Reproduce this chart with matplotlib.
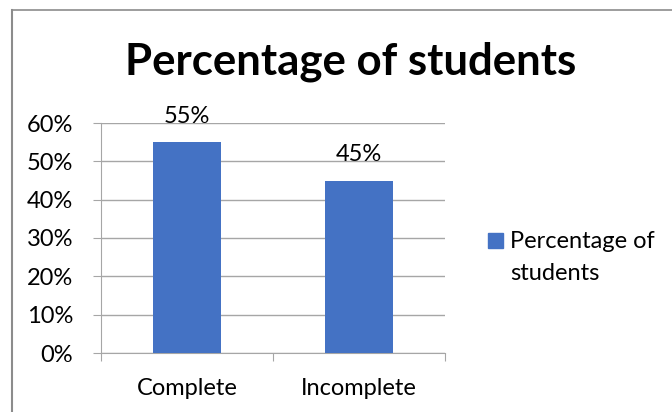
import matplotlib.pyplot as plt
from matplotlib.lines import Line2D
from matplotlib.patches import Rectangle

categories = ["Complete", "Incomplete"]
values = [0.55, 0.45]
value_labels = ["55%", "45%"]
yticks = [0, 0.1, 0.2, 0.3, 0.4, 0.5, 0.6]
ytick_labels = ["0%", "10%", "20%", "30%", "40%", "50%", "60%"]
series_lines = ["Percentage of", "students"]

W, H = 672, 412
bar_color = "#4472c4"
grid_color = "#a6a6a6"
fs = 17

plt.rcParams['font.family'] = ['Lato', 'DejaVu Sans']

fig = plt.figure(figsize=(W / 100, H / 100), dpi=100)
ax = fig.add_axes([101 / W, 1 - 353 / H, (445 - 101) / W, (353 - 123) / H])

x = range(len(categories))
bars = ax.bar(x, values, width=0.4, color=bar_color, zorder=3)
ax.set_xlim(-0.5, 1.5)
ax.set_ylim(0, 0.6)

for b, lab in zip(bars, value_labels):
    ax.annotate(lab, (b.get_x() + b.get_width() / 2, b.get_height()),
                xytext=(0, 13.7), textcoords="offset points",
                ha="center", va="baseline", fontsize=fs)

# gridlines with short ticks sticking out left of the axis
ax.set_yticks(yticks)
ax.set_yticklabels(ytick_labels, fontsize=fs)
ax.yaxis.grid(True, color=grid_color, linewidth=1, zorder=0)
ax.tick_params(axis="y", length=6, color=grid_color, pad=14)

# category ticks sit between the bars
ax.set_xticks([-0.5, 0.5, 1.5])
ax.set_xticklabels([])
ax.set_xticks(list(x), minor=True)
ax.set_xticklabels(categories, minor=True, fontsize=fs)
ax.tick_params(axis="x", which="major", length=6, color=grid_color)
ax.tick_params(axis="x", which="minor", length=0, pad=18)

for s in ["top", "right"]:
    ax.spines[s].set_visible(False)
ax.spines["left"].set_color(grid_color)
ax.spines["bottom"].set_color(grid_color)

fig.text(351 / W, 1 - 75 / H, "Percentage of students", ha="center", va="baseline",
         fontsize=31.5, fontweight="bold")

# legend
fig.patches.append(Rectangle((488 / W, 1 - 248 / H), 15 / W, 15 / H,
                             transform=fig.transFigure, color=bar_color))
for i, line in enumerate(series_lines):
    fig.text(510 / W, 1 - (248 + 32 * i) / H, line, ha="left", va="baseline",
             fontsize=fs)

# chart border
fig.lines.append(Line2D([12 / W, 1], [1 - 10 / H, 1 - 10 / H],
                        transform=fig.transFigure, color="#8c8c8c", linewidth=1.2))
fig.lines.append(Line2D([12 / W, 12 / W], [0, 1 - 10 / H],
                        transform=fig.transFigure, color="#8c8c8c", linewidth=1.5))

fig.savefig("out.png", dpi=100)
